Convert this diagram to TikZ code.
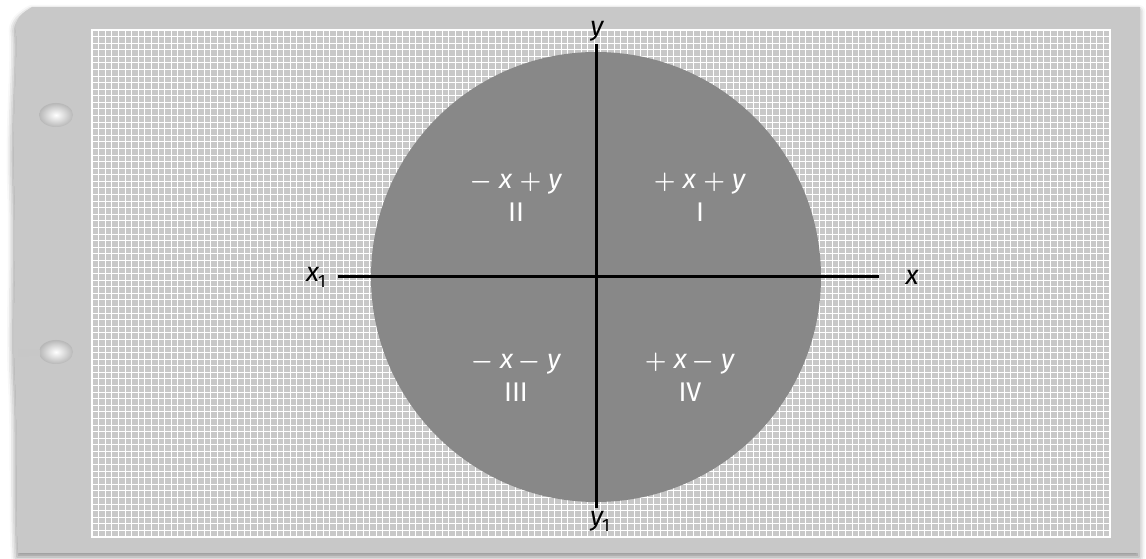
\documentclass[tikz,border=0pt]{standalone}
\usepackage{fontspec}
\setmainfont{Fira Sans}
\usetikzlibrary{shadows.blur}

\definecolor{sheetgray}{HTML}{C8C8C8}
\definecolor{diskgray}{HTML}{888888}

\newcommand{\pl}{\mbox{\boldmath$+$}}
\newcommand{\mi}{\mbox{\boldmath$-$}}

\begin{document}
\begin{tikzpicture}[
  x=1pt, y=1pt,
  lbl/.style={font=\fontsize{27}{30}\selectfont, inner sep=1pt},
  quad/.style={lbl, text=white, align=center},
  axis/.style={draw=black, line width=3pt},
  hole/.style={inner color=white, outer color=black!28}
]
  \useasboundingbox (0,0) rectangle (1146,559);

  % Sheet of graph paper with a torn left edge
  \fill[sheetgray, blur shadow={shadow xshift=-1pt, shadow yshift=-4pt,
        shadow blur radius=6pt, shadow opacity=45}]
    (32,552) -- (1140,552) -- (1140,6) -- (18,6)
    .. controls (15,60) and (18,120) .. (15,180)
    .. controls (12,240) and (17,300) .. (14,380)
    .. controls (12,440) and (18,500) .. (16,528)
    .. controls (14,540) and (22,546) .. cycle;

  % Punched holes
  \shade[hole] (56,444) ellipse (17 and 12);
  \shade[hole] (56,207) ellipse (17 and 12);
  \fill[black!22] (18,210) -- (40,209) -- (40,204) -- (18,202) -- cycle;

  % Grid area
  \begin{scope}[shift={(92,22)}]
    \draw[white, line width=1pt] (0,0) grid[xstep=6.61, ystep=6.585] (1018,507);
    \draw[white, line width=2.4pt] (0,0) rectangle (1018,507);
  \end{scope}

  % Disc
  \fill[diskgray] (596,282) circle (225);

  % Axis labels
  \node[lbl] (y)  at (597,528) {\itshape y};
  \node[lbl] (y1) at (600,38)  {\itshape y\kern-1pt\raisebox{-6pt}{\fontsize{18}{20}\selectfont\upshape 1}};
  \node[lbl, anchor=east] (x1) at (327,282) {\itshape x\kern-1pt\raisebox{-6pt}{\fontsize{18}{20}\selectfont\upshape 1}};
  \node[lbl] (x)  at (912,282) {\itshape x};

  % Axes
  \coordinate (xl) at (338,282);
  \coordinate (xr) at (879,282);
  \coordinate (yt) at (596,515);
  \coordinate (yb) at (596,51);
  \draw[axis] (xl) -- (xr);
  \draw[axis] (yt) -- (yb);

  % Quadrants
  \node[quad] (q2) at (516,362) {\mi\ \textit{x} \pl\ \textit{y}\\[3pt]II};
  \node[quad] (q1) at (700,362) {\pl\ \textit{x} \pl\ \textit{y}\\[3pt]I};
  \node[quad] (q3) at (516,182) {\mi\ \textit{x}\,\mi\ \textit{y}\\[3pt]III};
  \node[quad] (q4) at (690,182) {\pl\ \textit{x}\,\mi\ \textit{y}\\[3pt]IV};

\end{tikzpicture}
\end{document}
